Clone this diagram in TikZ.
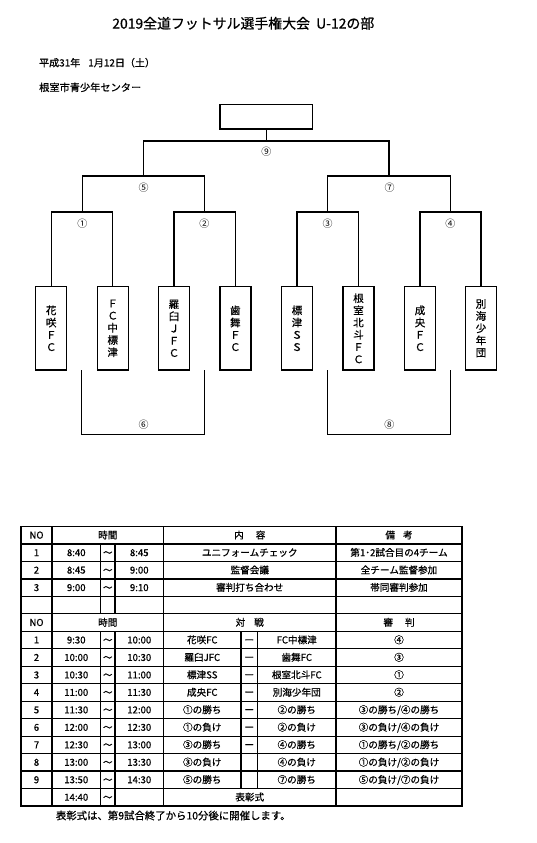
\documentclass[tikz,border=0pt]{standalone}
\usepackage{fontspec}
\setmainfont{Noto Sans CJK JP}[BoldFont={Noto Sans CJK JP}, BoldFeatures={FakeBold=0.7}]
\newcommand\RowY[1]{526.5+17.47*(#1)}
\newcommand\TabCell[3]{\node[cell] at (#1,{\RowY{#2+0.5}}) {#3};}
\begin{document}
\begin{tikzpicture}[x=1pt,y=-1pt,
  br/.style={line width=1.4pt, line join=miter},
  team/.style={draw, line width=1.4pt, minimum width=31pt, minimum height=83.3pt, inner sep=0pt, align=center, font=\fontsize{10.5}{12.2}\selectfont\bfseries},
  num/.style={font=\fontsize{10}{12}\selectfont, inner sep=0pt, text height=8.3pt, text depth=1.3pt},
  cell/.style={font=\fontsize{9.6}{11}\selectfont\bfseries, inner sep=0pt, text height=8pt, text depth=1.2pt},
  gridline/.style={line width=1.2pt},
  frameline/.style={line width=1.8pt},
]
\useasboundingbox (0,0) rectangle (536,843);
\fill[white] (0,0) rectangle (536,843);

% heading
\node[font=\fontsize{13.9}{15}\selectfont\bfseries, inner sep=0pt] (title) at (243.3,23.3) {2019全道フットサル選手権大会\ \ U-12の部};
\node[font=\fontsize{10}{12}\selectfont\bfseries, inner sep=0pt, anchor=west] (date) at (39,62.7) {平成31年\hspace{8pt}1月12日（土）};
\node[font=\fontsize{10.2}{12}\selectfont\bfseries, inner sep=0pt, anchor=west] (venue) at (39,87.3) {根室市青少年センター};

% bracket
\node[draw, br, minimum width=92.3pt, minimum height=24.3pt, inner sep=0pt] (champ) at (266.3,116.8) {};
\node[team] (t1) at (51.2,328.3) {花\\咲\\Ｆ\\Ｃ};
\node[team] (t2) at (112.7,328.3) {Ｆ\\Ｃ\\中\\標\\津};
\node[team] (t3) at (174,328.3) {羅\\臼\\Ｊ\\Ｆ\\Ｃ};
\node[team] (t4) at (235.3,328.3) {歯\\舞\\Ｆ\\Ｃ};
\node[team] (t5) at (297,328.3) {標\\津\\Ｓ\\Ｓ};
\node[team] (t6) at (358.5,328.3) {根\\室\\北\\斗\\Ｆ\\Ｃ};
\node[team] (t7) at (420,328.3) {成\\央\\Ｆ\\Ｃ};
\node[team] (t8) at (481,328.3) {別\\海\\少\\年\\団};

\coordinate (q1) at (82.3,212);
\coordinate (q2) at (204.3,212);
\coordinate (q3) at (327.7,212);
\coordinate (q4) at (450.3,212);
\coordinate (s5) at (143.3,176);
\coordinate (s7) at (389,176);
\coordinate (f9) at (266.3,141);

\draw[br] (t1.north) |- (q1) -| (t2.north);
\draw[br] (t3.north) |- (q2) -| (t4.north);
\draw[br] (t5.north) |- (q3) -| (t6.north);
\draw[br] (t7.north) |- (q4) -| (t8.north);
\draw[br] (q1) |- (s5) -| (q2);
\draw[br] (q3) |- (s7) -| (q4);
\draw[br] (s5) |- (f9) -| (s7);
\draw[br] (f9) -- (champ.south);

\coordinate (a6) at (81.7,370);
\coordinate (b6) at (204.3,370);
\coordinate (m6) at (143,434.3);
\coordinate (a8) at (327.7,370);
\coordinate (b8) at (450.3,370);
\coordinate (m8) at (389,434.3);
\draw[br] (a6) |- (m6) -| (b6);
\draw[br] (a8) |- (m8) -| (b8);

\node[num] (n1) at (82.3,224) {①};
\node[num] (n2) at (204.3,224) {②};
\node[num] (n3) at (327.7,224) {③};
\node[num] (n4) at (450.3,224) {④};
\node[num] (n5) at (143.7,188.3) {⑤};
\node[num] (n7) at (389.7,188.3) {⑦};
\node[num] (n9) at (266.3,151.7) {⑨};
\node[num] (n6) at (143.7,425) {⑥};
\node[num] (n8) at (389.3,425) {⑧};

% table grid
\foreach \i in {1,...,15} \draw[gridline] (21,{\RowY{\i}}) -- (462,{\RowY{\i}});
\draw[gridline] (52,{\RowY{0}}) -- (52,{\RowY{16}});
\draw[gridline] (163.5,{\RowY{0}}) -- (163.5,{\RowY{16}});
\draw[gridline] (336,{\RowY{0}}) -- (336,{\RowY{16}});
\foreach \x in {100.5,115} {
  \draw[gridline] (\x,{\RowY{1}}) -- (\x,{\RowY{5}});
  \draw[gridline] (\x,{\RowY{6}}) -- (\x,{\RowY{16}});
}
\foreach \x in {241,257.5} \draw[gridline] (\x,{\RowY{6}}) -- (\x,{\RowY{15}});
\draw[frameline] (21,{\RowY{0}}) rectangle (462,{\RowY{16}});

% table text
\TabCell{36.5}{0}{NO}
\TabCell{107.75}{0}{時間}
\TabCell{249.75}{0}{内\hspace{12pt}容}
\TabCell{399}{0}{備\hspace{8pt}考}

\TabCell{36.5}{1}{1}\TabCell{76.25}{1}{8:40}\TabCell{107.75}{1}{～}\TabCell{139.25}{1}{8:45}
\TabCell{249.75}{1}{ユニフォームチェック}\TabCell{399}{1}{第1･2試合目の4チーム}
\TabCell{36.5}{2}{2}\TabCell{76.25}{2}{8:45}\TabCell{107.75}{2}{～}\TabCell{139.25}{2}{9:00}
\TabCell{249.75}{2}{監督会議}\TabCell{399}{2}{全チーム監督参加}
\TabCell{36.5}{3}{3}\TabCell{76.25}{3}{9:00}\TabCell{107.75}{3}{～}\TabCell{139.25}{3}{9:10}
\TabCell{249.75}{3}{審判打ち合わせ}\TabCell{399}{3}{帯同審判参加}

\TabCell{36.5}{5}{NO}
\TabCell{107.75}{5}{時間}
\TabCell{249.75}{5}{対\hspace{9pt}戦}
\TabCell{399}{5}{審\hspace{12pt}判}

\TabCell{36.5}{6}{1}\TabCell{76.25}{6}{9:30}\TabCell{107.75}{6}{～}\TabCell{139.25}{6}{10:00}
\TabCell{202.25}{6}{花咲FC}\TabCell{249.25}{6}{ー}\TabCell{296.75}{6}{FC中標津}\TabCell{399}{6}{④}
\TabCell{36.5}{7}{2}\TabCell{76.25}{7}{10:00}\TabCell{107.75}{7}{～}\TabCell{139.25}{7}{10:30}
\TabCell{202.25}{7}{羅臼JFC}\TabCell{249.25}{7}{ー}\TabCell{296.75}{7}{歯舞FC}\TabCell{399}{7}{③}
\TabCell{36.5}{8}{3}\TabCell{76.25}{8}{10:30}\TabCell{107.75}{8}{～}\TabCell{139.25}{8}{11:00}
\TabCell{202.25}{8}{標津SS}\TabCell{249.25}{8}{ー}\TabCell{296.75}{8}{根室北斗FC}\TabCell{399}{8}{①}
\TabCell{36.5}{9}{4}\TabCell{76.25}{9}{11:00}\TabCell{107.75}{9}{～}\TabCell{139.25}{9}{11:30}
\TabCell{202.25}{9}{成央FC}\TabCell{249.25}{9}{ー}\TabCell{296.75}{9}{別海少年団}\TabCell{399}{9}{②}
\TabCell{36.5}{10}{5}\TabCell{76.25}{10}{11:30}\TabCell{107.75}{10}{～}\TabCell{139.25}{10}{12:00}
\TabCell{202.25}{10}{①の勝ち}\TabCell{249.25}{10}{ー}\TabCell{296.75}{10}{②の勝ち}\TabCell{399}{10}{③の勝ち/④の勝ち}
\TabCell{36.5}{11}{6}\TabCell{76.25}{11}{12:00}\TabCell{107.75}{11}{～}\TabCell{139.25}{11}{12:30}
\TabCell{202.25}{11}{①の負け}\TabCell{249.25}{11}{ー}\TabCell{296.75}{11}{②の負け}\TabCell{399}{11}{③の負け/④の負け}
\TabCell{36.5}{12}{7}\TabCell{76.25}{12}{12:30}\TabCell{107.75}{12}{～}\TabCell{139.25}{12}{13:00}
\TabCell{202.25}{12}{③の勝ち}\TabCell{249.25}{12}{ー}\TabCell{296.75}{12}{④の勝ち}\TabCell{399}{12}{①の勝ち/②の勝ち}
\TabCell{36.5}{13}{8}\TabCell{76.25}{13}{13:00}\TabCell{107.75}{13}{～}\TabCell{139.25}{13}{13:30}
\TabCell{202.25}{13}{③の負け}\TabCell{296.75}{13}{④の負け}\TabCell{399}{13}{①の負け/②の負け}
\TabCell{36.5}{14}{9}\TabCell{76.25}{14}{13:50}\TabCell{107.75}{14}{～}\TabCell{139.25}{14}{14:30}
\TabCell{202.25}{14}{⑤の勝ち}\TabCell{296.75}{14}{⑦の勝ち}\TabCell{399}{14}{⑤の負け/⑦の負け}
\TabCell{76.25}{15}{14:40}\TabCell{107.75}{15}{～}
\TabCell{249.75}{15}{表彰式}

\node[font=\fontsize{10.4}{12}\selectfont\bfseries, inner sep=0pt, anchor=west] (note) at (55.7,815.5) {表彰式は、第9試合終了から10分後に開催します。};
\end{tikzpicture}
\end{document}
